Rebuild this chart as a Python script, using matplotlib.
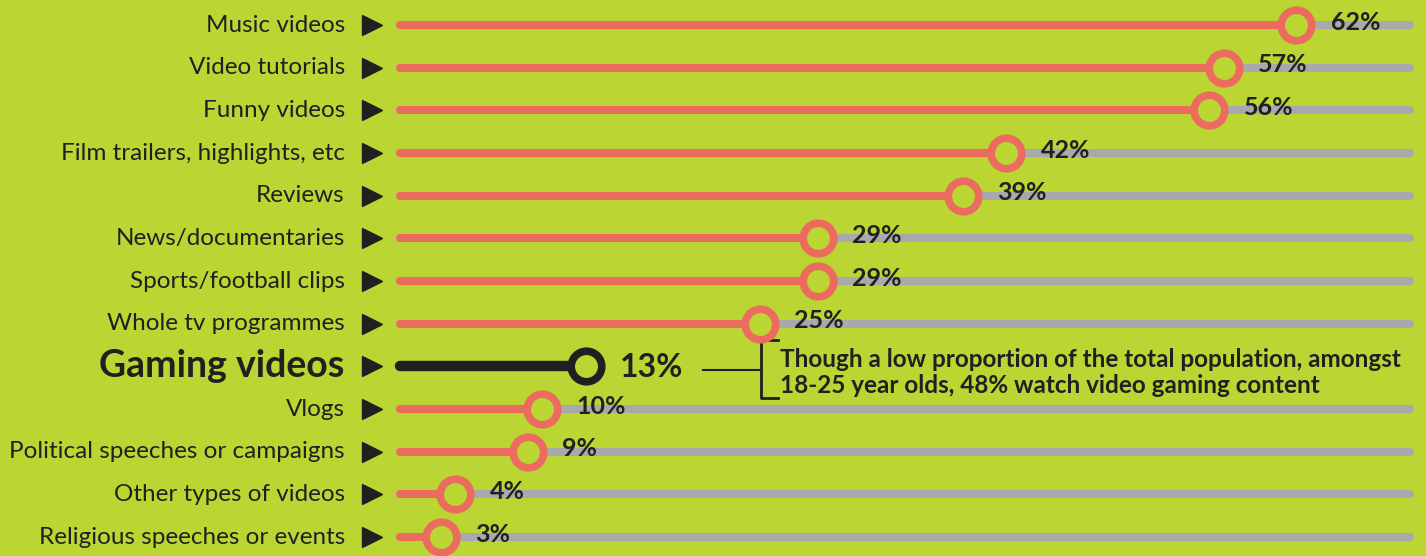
import matplotlib
matplotlib.use('Agg')
import matplotlib.pyplot as plt

plt.rcParams['font.family'] = ['Lato', 'DejaVu Sans']

# Data
categories = ['Music videos', 'Video tutorials', 'Funny videos',
              'Film trailers, highlights, etc', 'Reviews', 'News/documentaries',
              'Sports/football clips', 'Whole tv programmes', 'Gaming videos',
              'Vlogs', 'Political speeches or campaigns', 'Other types of videos',
              'Religious speeches or events']
values = [62, 57, 56, 42, 39, 29, 29, 25, 13, 10, 9, 4, 3]
highlight = 'Gaming videos'
note = ('Though a low proportion of the total population, amongst\n'
        '18-25 year olds, 48% watch video gaming content')

# Colours
bg = '#BBD632'
red = '#EB6B5E'
grey = '#A8A9AD'
dark = '#231F20'

# Layout: 14.5 px per percent, 0% at x = 397 px
px_per = 14.5
x0 = 397
W, H = 1426, 556
track_end = (1410 - x0) / px_per

fig = plt.figure(figsize=(W / 100, H / 100), dpi=100, facecolor=bg)
ax = fig.add_axes([0, 0, 1, 1])
ax.set_facecolor(bg)
ax.set_xlim(-x0 / px_per, (W - x0) / px_per)
row = 42.67
ax.set_ylim((H - 25) / row, -25 / row)
ax.axis('off')

for i, (cat, val) in enumerate(zip(categories, values)):
    hl = cat == highlight
    col = dark if hl else red
    if not hl:
        ax.plot([0.2, track_end], [i, i], color=grey, lw=5.8,
                solid_capstyle='round', zorder=1)
    ax.plot([0.2, val], [i, i], color=col, lw=7.5 if hl else 5.8,
            solid_capstyle='round', zorder=2)
    ax.plot(val, i, 'o', ms=22, mew=5.5, mfc=bg, mec=col, zorder=3)
    ax.plot(-1.7, i, '>', ms=14, color=dark, zorder=3)
    ax.text(-3.6, i, cat, ha='right', va='center', color=dark,
            fontsize=27 if hl else 17.5, fontweight='bold' if hl else 'normal')
    ax.annotate(f'{val}%', (val, i), xytext=(25, 2 if not hl else -1),
                textcoords='offset points', ha='left', va='center',
                fontsize=23 if hl else 18, fontweight='bold', color=dark)

# Note for the highlighted row
gi = categories.index(highlight)
lx = lambda px: (px - x0) / px_per
ax.plot([lx(703), lx(760)], [gi + 0.08, gi + 0.08], color=dark, lw=1.5)
ax.plot([lx(778), lx(761), lx(761), lx(778)],
        [gi - 0.62, gi - 0.62, gi + 0.75, gi + 0.75], color=dark, lw=2)
ax.text(lx(780), gi + 0.14, note, ha='left', va='center', color=dark,
        fontsize=17.5, fontweight='bold', linespacing=1.15)

plt.savefig('out.png', dpi=100, facecolor=bg)
plt.close()
